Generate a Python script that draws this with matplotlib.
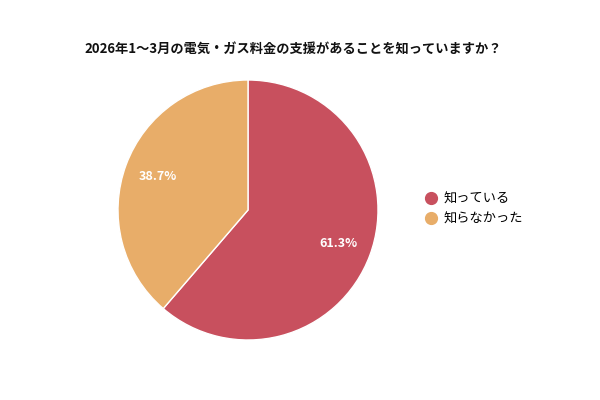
import matplotlib
matplotlib.use("Agg")
import matplotlib.pyplot as plt
from matplotlib.lines import Line2D

plt.rcParams['font.family'] = ['Noto Sans CJK JP', 'DejaVu Sans']

title = "2026年1～3月の電気・ガス料金の支援があることを知っていますか？"
categories = ["知っている", "知らなかった"]
values = [61.3, 38.7]
colors = ["#C8505E", "#E8AD69"]

fig = plt.figure(figsize=(6, 4), dpi=100)
ax = fig.add_axes([118/600, 60/400, 260/600, 260/400])
wedges, texts, autotexts = ax.pie(
    values, colors=colors, startangle=90, counterclock=False,
    autopct=lambda p: f"{p:.1f}%", pctdistance=0.74, radius=1,
    wedgeprops=dict(edgecolor="white", linewidth=1),
    textprops=dict(color="white", fontsize=9, fontweight="bold"))
ax.set_xlim(-1, 1)
ax.set_ylim(-1, 1)
ax.set_aspect("equal")
ax.axis("off")

fig.text(293/600, 1 - 50/400, title, ha="center", va="center",
         fontsize=9.5, fontweight="bold", color="#111111")

handles = [Line2D([0], [0], marker="o", linestyle="", markersize=8.5,
                  markerfacecolor=c, markeredgecolor=c) for c in colors]
fig.legend(handles, categories, loc="center left",
           bbox_to_anchor=(424/600, 1 - 209/400), frameon=False,
           fontsize=9.5, handletextpad=0.45, labelspacing=0.55,
           handlelength=1.0, borderaxespad=0, borderpad=0)

fig.savefig("out.png", dpi=100)
